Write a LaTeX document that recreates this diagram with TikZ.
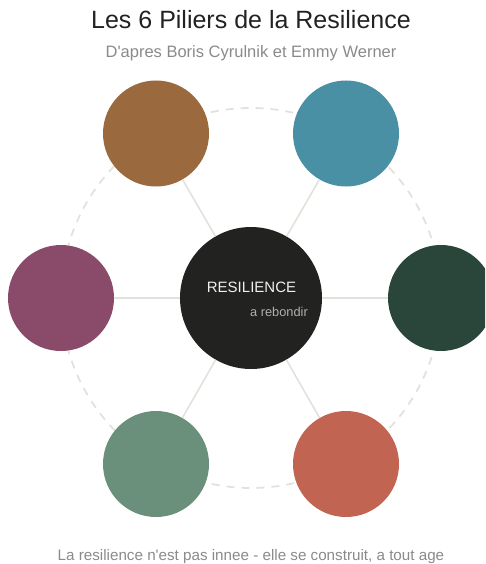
\documentclass[tikz,border=0pt]{standalone}
\usepackage{fontspec}
\setmainfont{Liberation Sans}
\definecolor{cbrown}{HTML}{9A6A3E}
\definecolor{cteal}{HTML}{4A90A5}
\definecolor{cplum}{HTML}{8A4A69}
\definecolor{cpine}{HTML}{2A463B}
\definecolor{csage}{HTML}{6A8F7B}
\definecolor{crust}{HTML}{C26452}
\definecolor{ccore}{HTML}{222220}
\definecolor{cline}{HTML}{E2E2DC}
\definecolor{ctitle}{HTML}{222222}
\definecolor{cgray}{HTML}{8A8A8A}
\definecolor{csoft}{HTML}{AFAFAF}
\begin{document}
\begin{tikzpicture}[x=1pt,y=-1pt,
  pillar/.style={circle,inner sep=0pt,minimum size=106pt,draw=none},
  core/.style={circle,inner sep=0pt,minimum size=142pt,fill=ccore,draw=none},
  spoke/.style={draw=cline,line width=1.6pt},
  ring/.style={draw=cline,line width=1.8pt,dash pattern=on 8pt off 7pt},
  txt/.style={inner sep=0pt,anchor=base}]
\useasboundingbox (0,0) rectangle (485,564);
\clip (0,0) rectangle (485,564);
\coordinate (o) at (251,298);
\draw[ring] (o) circle (190);
\node[core] (c) at (o) {};
\node[pillar,fill=cbrown] (p1) at (156,133.5) {};
\node[pillar,fill=cteal] (p2) at (346,133.5) {};
\node[pillar,fill=cpine] (p3) at (441,298) {};
\node[pillar,fill=crust] (p4) at (346,464) {};
\node[pillar,fill=csage] (p5) at (156,464) {};
\node[pillar,fill=cplum] (p6) at (61,298) {};
\foreach \p in {p1,p2,p3,p4,p5,p6} \draw[spoke] (c) -- (\p);
\node[txt,text=ctitle,font=\fontsize{25}{30}\selectfont] (title) at (251,29) {Les 6 Piliers de la Resilience};
\node[txt,text=cgray,font=\fontsize{16.5}{20}\selectfont] (sub) at (251,58) {D\textquotesingle apres Boris Cyrulnik et Emmy Werner};
\node[txt,text=white!94!black,font=\fontsize{15}{18}\selectfont] (lab) at (251.5,292) {RESILIENCE};
\node[txt,anchor=base east,text=csoft,font=\fontsize{12.8}{15}\selectfont] (tag) at (308,316) {a rebondir};
\node[txt,text=cgray,font=\fontsize{15.2}{18}\selectfont] (foot) at (251,560) {La resilience n\textquotesingle est pas innee - elle se construit, a tout age};
\end{tikzpicture}
\end{document}
